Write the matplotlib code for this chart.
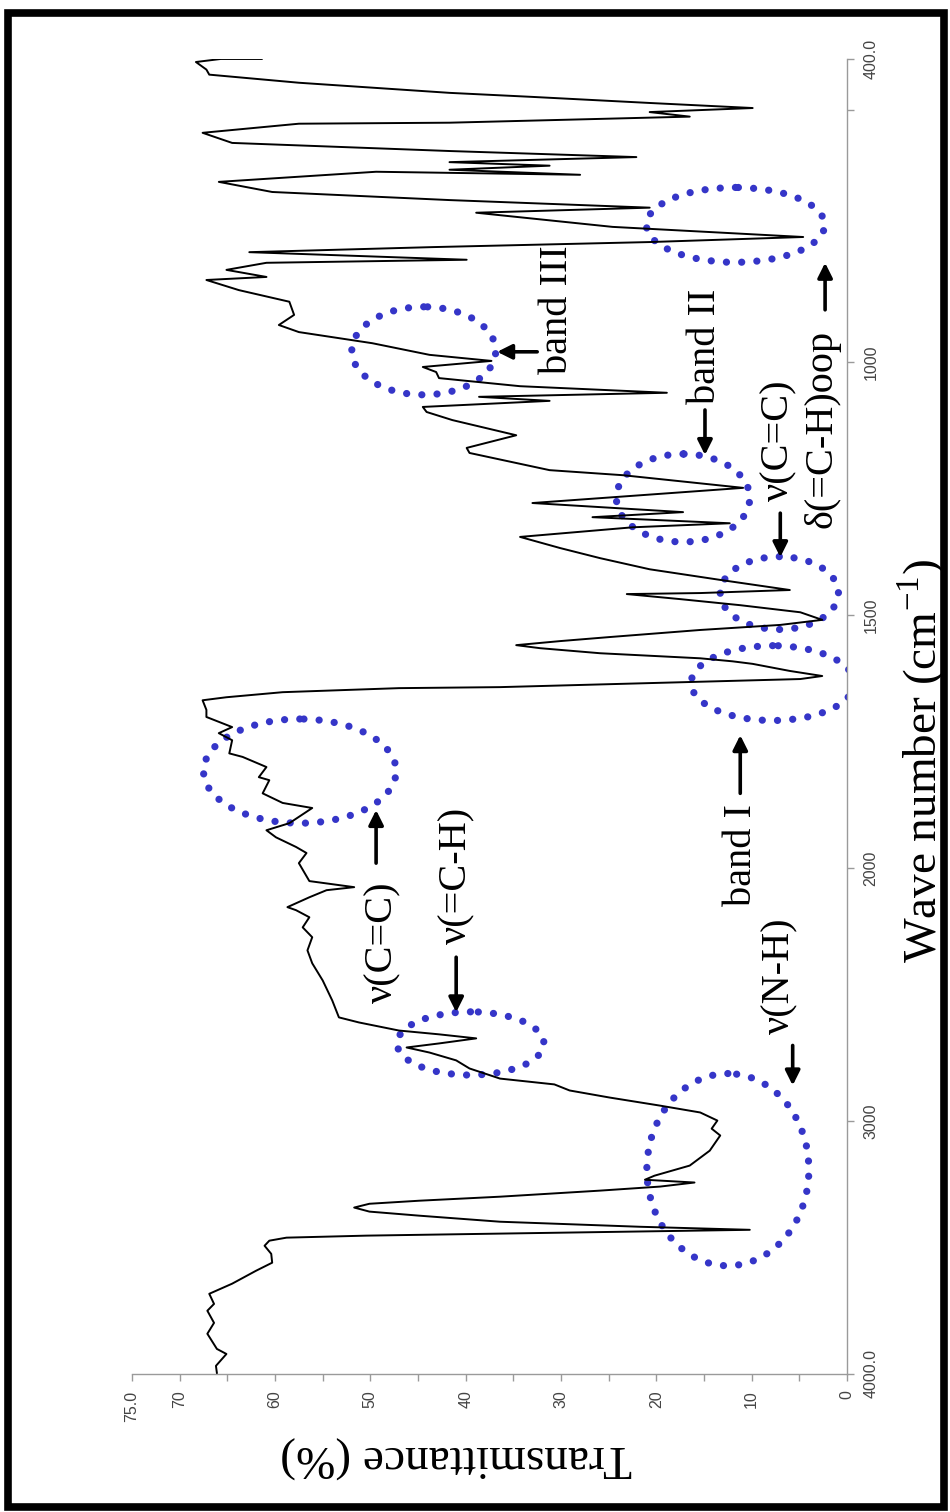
import numpy as np
import matplotlib
matplotlib.use("Agg")
import matplotlib.pyplot as plt
from matplotlib.patches import Ellipse, Rectangle

# ── spectrum (4000 -> 400 cm-1) ───────────────────────────────────────────
wavenumber = [
    3996, 3968, 3921, 3901, 3841, 3798, 3750, 3723, 3683, 3643, 3592, 3560,
    3525, 3493, 3473, 3461, 3453, 3445, 3437, 3430, 3418, 3398, 3374, 3358,
    3342, 3327, 3315, 3299, 3275, 3259, 3243, 3232, 3216, 3176, 3117, 3057,
    3030, 2998, 2966, 2939, 2907, 2879, 2855, 2832, 2792, 2760, 2729, 2709,
    2693, 2673, 2657, 2642, 2610, 2590, 2523, 2444, 2376, 2325, 2273, 2234,
    2194, 2166, 2154, 2115, 2087, 2075, 2051, 1990, 1970, 1958, 1939, 1925,
    1911, 1881, 1871, 1852, 1826, 1820, 1800, 1780, 1773, 1747, 1733, 1721,
    1701, 1687, 1668, 1662, 1652, 1644, 1642, 1634, 1626, 1620, 1610, 1596,
    1591, 1585, 1575, 1565, 1559, 1551, 1543, 1529, 1519, 1509, 1494, 1480,
    1468, 1458, 1456, 1450, 1430, 1409, 1387, 1367, 1345, 1326, 1318, 1306,
    1296, 1278, 1266, 1248, 1223, 1213, 1179, 1169, 1144, 1114, 1098, 1088,
    1076, 1068, 1060, 1047, 1031, 1019, 1009, 997, 985, 962, 940, 926,
    906, 880, 857, 837, 831, 817, 803, 797, 782, 772, 762, 752,
    732, 704, 694, 679, 663, 643, 623, 629, 619, 611, 604, 594,
    582, 566, 546, 528, 526, 518, 514, 505, 497, 487, 475, 467,
    447, 431, 421, 406, 400, 400,
]
transmittance = [
    66.1, 66.2, 65.1, 66.1, 67.1, 66.4, 67.1, 66.4, 66.9, 64.5, 62.0, 60.3,
    60.4, 61.1, 60.6, 58.8, 50.4, 36.4, 21.7, 10.2, 21.7, 36.4, 44.9, 50.1,
    51.7, 50.1, 44.9, 36.4, 25.9, 19.6, 16.0, 21.2, 20.2, 16.5, 14.4, 13.3,
    14.2, 13.6, 15.4, 19.6, 24.9, 29.1, 30.7, 36.4, 39.6, 41.0, 43.8, 46.2,
    42.8, 38.9, 42.8, 47.0, 51.2, 53.3, 54.0, 55.0, 56.1, 56.6, 56.1, 57.1,
    56.4, 57.8, 58.7, 56.4, 54.6, 51.7, 56.4, 57.5, 56.7, 57.8, 59.9, 60.9,
    58.5, 56.1, 59.2, 61.3, 60.6, 61.7, 60.9, 63.4, 64.8, 64.5, 65.9, 64.5,
    67.2, 67.2, 67.6, 65.1, 59.2, 47.0, 36.4, 20.7, 4.9, 2.6, 6.0, 9.9,
    12.0, 15.4, 25.9, 32.2, 34.7, 30.1, 24.9, 15.4, 7.0, 2.6, 4.9, 11.2,
    17.5, 23.1, 15.4, 6.0, 13.3, 20.7, 25.9, 30.1, 34.3, 22.5, 12.3, 26.7,
    17.2, 33.0, 24.2, 10.9, 23.5, 31.2, 39.6, 39.9, 34.7, 41.4, 44.1, 44.5,
    31.2, 38.6, 18.9, 34.3, 42.8, 43.1, 44.5, 37.3, 43.8, 49.8, 57.5, 59.6,
    58.0, 58.5, 63.8, 67.2, 60.9, 65.1, 60.9, 39.9, 62.7, 43.5, 20.7, 4.6,
    24.6, 38.9, 20.7, 41.7, 60.3, 65.9, 49.4, 28.0, 41.7, 31.2, 41.7, 22.1,
    41.7, 64.5, 67.6, 57.5, 41.7, 25.2, 16.5, 20.7, 9.9, 20.7, 33.0, 41.7,
    57.5, 66.9, 67.2, 68.3, 65.7, 61.4,
]

# ── dotted ellipses round the assigned bands ─────────────────────────────
ring_wn = [3192, 2693, 1808, 1634, 1456, 1268, 977, 728]
ring_t = [12.5, 39.5, 57.4, 7.8, 7.1, 17.2, 44.4, 11.7]
ring_dwn = [760, 250, 206, 148, 144, 174, 174, 148]
ring_dt = [17.0, 15.4, 20.2, 17.1, 12.4, 14.0, 15.1, 18.7]

# ── band labels and their arrows ─────────────────────────────────────────
label_text = [r"ν(N-H)", r"ν(=C-H)", r"ν(C=C)", "band I", "band II",
              "band III", r"ν(C=C)", r"δ(=C-H)oop"]
label_wn = [2424, 2028, 2293, 1974, 969, 896, 1153, 1132]
label_t = [7.0, 40.9, 48.7, 11.1, 14.8, 30.4, 7.2, 2.6]

arrow_wn_from = [2701, 2352, 1990, 1852, 1094, 979, 1298, 896]
arrow_wn_to = [2859, 2570, 1885, 1737, 1183, 979, 1385, 803]
arrow_t_from = [5.7, 41.0, 49.4, 11.2, 14.9, 32.5, 7.0, 2.3]
arrow_t_to = [5.7, 41.0, 49.4, 11.2, 14.9, 36.7, 7.0, 2.3]

t_ticks = [0, 5, 10, 15, 20, 25, 30, 35, 40, 45, 50, 55, 60, 65, 70, 75]
t_labels = ["0", "", "10", "", "20", "", "30", "", "40", "", "50", "",
            "60", "", "70", "75.0"]
wn_ticks = [4000, 3000, 2000, 1500, 1000, 500, 400]
wn_labels = ["4000.0", "3000", "2000", "1500", "1000", "", "400.0"]

BLUE = "#3535c8"
SERIF = ["Liberation Serif", "DejaVu Serif"]


def _fwd(w):
    # spectrometer chart: the part below 2000 cm-1 is drawn twice as wide
    w = np.asarray(w, dtype=float)
    return np.where(w > 2000, 2000 + (w - 2000) / 2.0, w)


def _inv(u):
    u = np.asarray(u, dtype=float)
    return np.where(u > 2000, 2000 + (u - 2000) * 2.0, u)


fig = plt.figure(figsize=(9.5, 15.12), dpi=100)
ax = fig.add_axes([0.139, 0.0913, 0.7526, 0.8697])

ax.plot(transmittance, wavenumber, color="black", lw=1.4, solid_joinstyle="round")

ax.set_yscale("function", functions=(_fwd, _inv))
ax.set_xlim(75, 0)
ax.set_ylim(4000, 400)

for s in ("top", "left"):
    ax.spines[s].set_visible(False)
for s in ("bottom", "right"):
    ax.spines[s].set_color("#9a9a9a")
    ax.spines[s].set_linewidth(1.0)

ax.set_xticks(t_ticks)
ax.set_xticklabels(t_labels, rotation=90, fontsize=11.5, color="#444444",
                   family="Liberation Sans")
ax.yaxis.tick_right()
ax.set_yticks(wn_ticks)
ax.set_yticklabels(wn_labels, rotation=90, fontsize=11.5, color="#444444",
                   family="Liberation Sans", va="center")
ax.yaxis.set_minor_locator(matplotlib.ticker.NullLocator())
ax.tick_params(axis="both", colors="#9a9a9a", length=5, width=1.0,
               labelcolor="#444444")
ax.tick_params(axis="x", pad=7)
ax.tick_params(axis="y", pad=7)

# axis titles, placed where the scan puts them
fig.text(456 / 950, 1 - 1457 / 1512, "Transmittance (%)", rotation=180,
         ha="center", va="center", fontsize=34, family=SERIF)
fig.text(922 / 950, 1 - 761 / 1512, r"Wave number (cm$^{\mathregular{-1}}$)",
         rotation=90, ha="center", va="center", fontsize=34, family=SERIF)

for cw, ct, dw, dt in zip(ring_wn, ring_t, ring_dwn, ring_dt):
    e = Ellipse((ct, cw), dt, dw, fill=False, edgecolor=BLUE, lw=5.2,
                linestyle=(0, (0.01, 2.1)))
    e.set_capstyle("round")
    ax.add_patch(e)

for txt, w, t in zip(label_text, label_wn, label_t):
    ax.text(t, w, txt, rotation=90, ha="center", va="center",
            fontsize=29, family=SERIF)

for w0, w1, t0, t1 in zip(arrow_wn_from, arrow_wn_to, arrow_t_from, arrow_t_to):
    ax.annotate("", xy=(t1, w1), xytext=(t0, w0),
                arrowprops=dict(arrowstyle="-|>", color="black", lw=2.6,
                                mutation_scale=22, shrinkA=0, shrinkB=0))

# thick frame round the whole picture
fig.add_artist(Rectangle((0.008, 0.003), 0.986, 0.9887, transform=fig.transFigure,
                         fill=False, edgecolor="black", lw=5.5))

fig.savefig("out.png", dpi=100)
